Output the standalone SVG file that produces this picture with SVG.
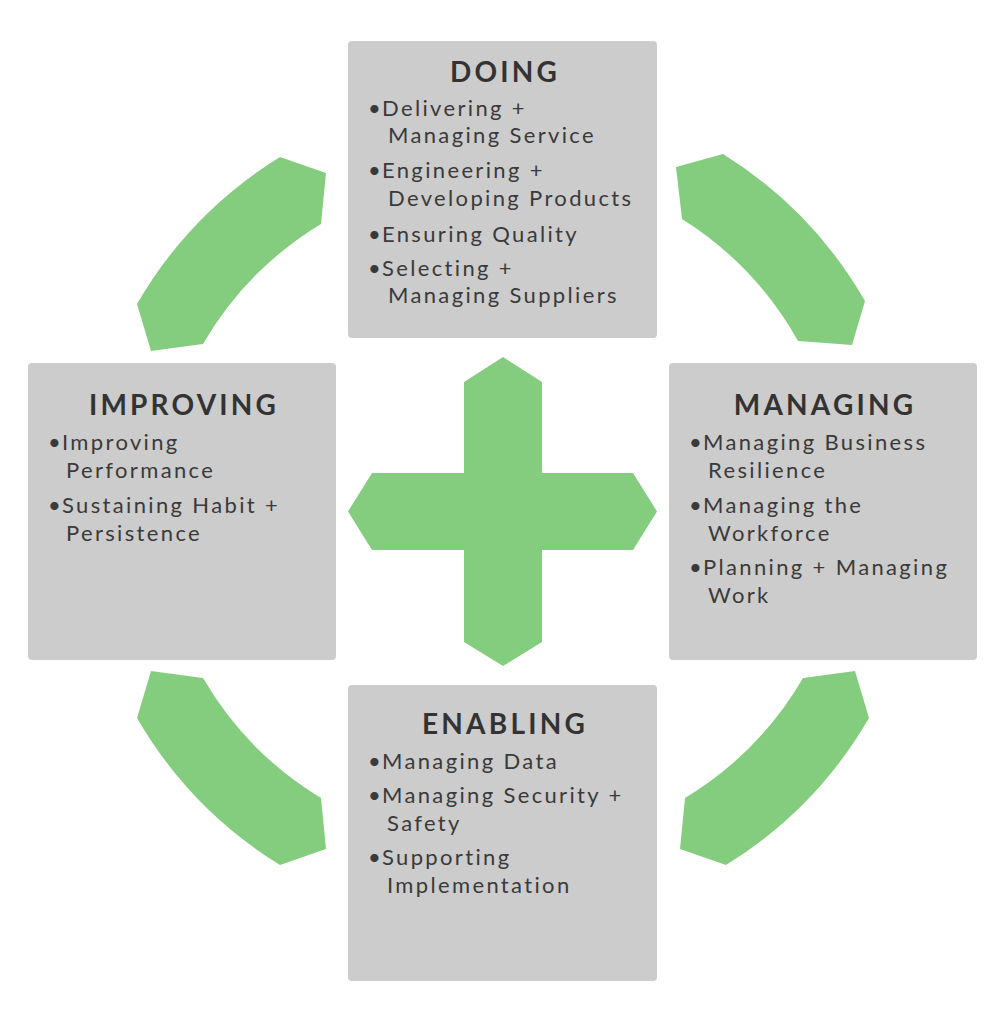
<svg xmlns="http://www.w3.org/2000/svg" width="1006" height="1024" viewBox="0 0 1006 1024">
<style>
.box{fill:#cccccc}
.green{fill:#85cd7e}
.title{font-family:Lato,"Liberation Sans",sans-serif;font-weight:700;font-size:28px;letter-spacing:3.2px;fill:#333333;text-anchor:middle}
.body{font-family:Lato,"Liberation Sans",sans-serif;font-size:22px;letter-spacing:2.35px;fill:#3a3a3a}
</style>
<rect width="1006" height="1024" fill="#ffffff"/>
<g id="connectors">
<path class="green" d="M137,304 A420,420 0 0 1 280,157 L326,173 L321,224 A341,341 0 0 0 203,344 L151,351 Z"/>
<path class="green" d="M723,154 A420,420 0 0 1 865,301 L852,345 L798,341 A341,341 0 0 0 682,219 L676,167 Z"/>
<path class="green" d="M869,718 A420,420 0 0 1 726,865 L680,849 L685,798 A341,341 0 0 0 803,678 L855,671 Z"/>
<path class="green" d="M137,718 A420,420 0 0 0 280,865 L326,849 L321,798 A341,341 0 0 1 203,678 L151,671 Z"/>
</g>
<g id="center-cross">
<polygon class="green" points="503,357 542,382 542,473 633,473 657,511.5 633,550 542,550 542,642 503,666 464,642 464,550 372,550 348,511.5 372,473 464,473 464,382"/>
</g>
<g id="node-doing">
<rect class="box" x="348" y="41" width="309" height="297" rx="4"/>
<text class="title" x="505" y="82">DOING</text>
<text class="body" y="116"><tspan x="368">•</tspan><tspan x="382">Delivering +</tspan></text>
<text class="body" x="388" y="143">Managing Service</text>
<text class="body" y="178"><tspan x="368">•</tspan><tspan x="382">Engineering +</tspan></text>
<text class="body" x="388" y="206">Developing Products</text>
<text class="body" y="242"><tspan x="368">•</tspan><tspan x="382">Ensuring Quality</tspan></text>
<text class="body" y="276"><tspan x="368">•</tspan><tspan x="382">Selecting +</tspan></text>
<text class="body" x="388" y="303">Managing Suppliers</text>
</g>
<g id="node-improving">
<rect class="box" x="28" y="363" width="308" height="297" rx="4"/>
<text class="title" x="184" y="415">IMPROVING</text>
<text class="body" y="450"><tspan x="48">•</tspan><tspan x="62">Improving</tspan></text>
<text class="body" x="66" y="478">Performance</text>
<text class="body" y="513"><tspan x="48">•</tspan><tspan x="62">Sustaining Habit +</tspan></text>
<text class="body" x="66" y="541">Persistence</text>
</g>
<g id="node-managing">
<rect class="box" x="669" y="363" width="308" height="297" rx="4"/>
<text class="title" x="825" y="415">MANAGING</text>
<text class="body" y="450"><tspan x="689">•</tspan><tspan x="703">Managing Business</tspan></text>
<text class="body" x="708" y="478">Resilience</text>
<text class="body" y="513"><tspan x="689">•</tspan><tspan x="703">Managing the</tspan></text>
<text class="body" x="708" y="541">Workforce</text>
<text class="body" y="575"><tspan x="689">•</tspan><tspan x="703">Planning + Managing</tspan></text>
<text class="body" x="708" y="603">Work</text>
</g>
<g id="node-enabling">
<rect class="box" x="348" y="685" width="309" height="296" rx="4"/>
<text class="title" x="505" y="734">ENABLING</text>
<text class="body" y="769"><tspan x="368">•</tspan><tspan x="382">Managing Data</tspan></text>
<text class="body" y="803"><tspan x="368">•</tspan><tspan x="382">Managing Security +</tspan></text>
<text class="body" x="387" y="831">Safety</text>
<text class="body" y="865"><tspan x="368">•</tspan><tspan x="382">Supporting</tspan></text>
<text class="body" x="387" y="893">Implementation</text>
</g>
</svg>
